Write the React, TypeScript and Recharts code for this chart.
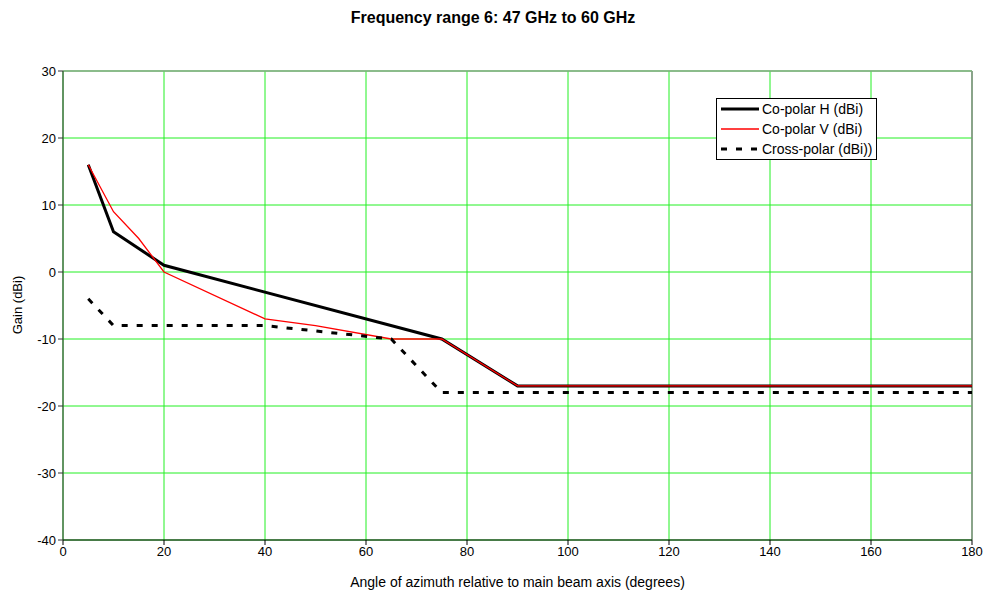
import React from "react";
import { LineChart, Line, XAxis, YAxis, CartesianGrid, ReferenceLine } from "recharts";

const xTicks = [0, 20, 40, 60, 80, 100, 120, 140, 160, 180];
const yTicks = [-40, -30, -20, -10, 0, 10, 20, 30];

const hAngles = [5, 10, 20, 75, 90, 180];
const hGain = [16, 6, 1, -10, -17, -17];

const vAngles = [5, 10, 15, 20, 40, 50, 65, 75, 90, 180];
const vGain = [16, 9, 5, 0, -7, -8, -10, -10, -17, -17];

const xpAngles = [5, 10, 20, 40, 65, 75, 180];
const xpGain = [-4, -8, -8, -8, -10, -18, -18];

const toPts = (xs: number[], ys: number[]) => xs.map((x, i) => ({ x, y: ys[i] }));

const series = [
  { name: "Co-polar H (dBi)", data: toPts(hAngles, hGain), stroke: "#000000", width: 3, dash: undefined as string | undefined },
  { name: "Co-polar V (dBi)", data: toPts(vAngles, vGain), stroke: "#FF0000", width: 1.3, dash: undefined },
  { name: "Cross-polar (dBi))", data: toPts(xpAngles, xpGain), stroke: "#000000", width: 3, dash: "6 9" },
];

const FONT = "'Liberation Sans', Arial, sans-serif";

function LegendBox() {
  return (
    <div
      style={{
        position: "absolute",
        left: 716,
        top: 98,
        border: "1px solid #000",
        background: "#fff",
        width: 161,
        height: 62,
        padding: "0 0 0 3px",
        fontFamily: FONT,
        fontSize: 14,
        boxSizing: "border-box",
      }}
    >
      {series.map((s) => (
        <div key={s.name} style={{ display: "flex", alignItems: "center", height: 20 }}>
          <svg width={40} height={8} style={{ marginRight: 2 }}>
            <line x1={1} y1={4} x2={39} y2={4} stroke={s.stroke} strokeWidth={s.width} strokeDasharray={s.dash} />
          </svg>
          <span>{s.name}</span>
        </div>
      ))}
    </div>
  );
}

export default function App() {
  return (
    <div style={{ position: "relative", width: 986, height: 592, background: "#fff", fontFamily: FONT }}>
      <style>{`body{margin:0}`}</style>
      <div
        style={{
          position: "absolute",
          top: 9,
          left: 0,
          width: 986,
          textAlign: "center",
          fontWeight: "bold",
          fontSize: 16,
        }}
      >
        Frequency range 6: 47 GHz to 60 GHz
      </div>
      <LineChart width={986} height={592} margin={{ top: 71, right: 14, bottom: 22, left: 13 }}>
        <CartesianGrid stroke="#22F022" horizontal vertical />
        <XAxis
          type="number"
          dataKey="x"
          domain={[0, 180]}
          ticks={xTicks}
          height={30}
          tick={{ fill: "#000", fontSize: 13, fontFamily: FONT }}
          tickSize={5}
          stroke="#000"
          allowDuplicatedCategory={false}
        />
        <YAxis
          type="number"
          dataKey="y"
          domain={[-40, 30]}
          ticks={yTicks}
          width={50}
          tick={{ fill: "#000", fontSize: 13, fontFamily: FONT }}
          tickSize={5}
          stroke="#333"
        />
        <ReferenceLine x={180} stroke="#888" strokeWidth={1.5} />
        <ReferenceLine y={30} stroke="#8aa88a" strokeWidth={1.5} />
        {series.map((s) => (
          <Line
            key={s.name}
            name={s.name}
            data={s.data}
            dataKey="y"
            type="linear"
            stroke={s.stroke}
            strokeWidth={s.width}
            strokeDasharray={s.dash}
            dot={false}
            activeDot={false}
            isAnimationActive={false}
          />
        ))}
      </LineChart>
      <LegendBox />
      <div
        style={{
          position: "absolute",
          top: 574,
          left: 63,
          width: 909,
          textAlign: "center",
          fontSize: 14,
        }}
      >
        Angle of azimuth relative to main beam axis (degrees)
      </div>
      <div
        style={{
          position: "absolute",
          left: 17,
          top: 305,
          transform: "translate(-50%, -50%) rotate(-90deg)",
          fontSize: 13,
          whiteSpace: "nowrap",
        }}
      >
        Gain (dBi)
      </div>
    </div>
  );
}
